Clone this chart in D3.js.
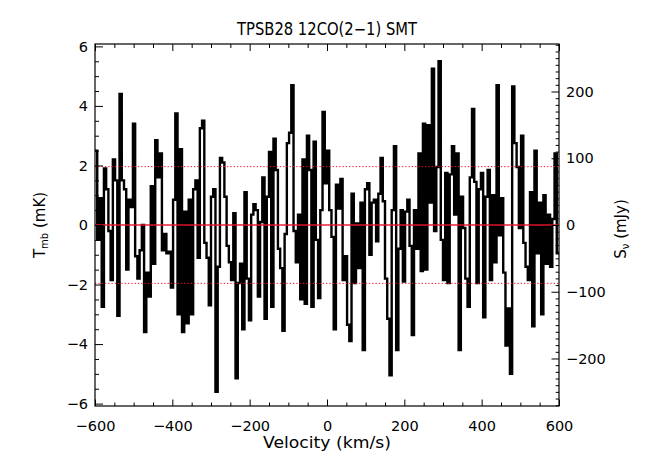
<!DOCTYPE html>
<html><head><meta charset="utf-8">
<script src="https://cdn.jsdelivr.net/npm/d3@7"></script>
<style>
html,body{margin:0;padding:0;background:#fff;}
svg text{font-family:"DejaVu Sans",sans-serif;fill:#000;}
</style></head>
<body>
<svg id="c" width="649" height="467"></svg>
<script>
// ---- data ----
const title = "TPSB28 12CO(2\u22121) SMT";
const velMin = -600, velMax = 600;
// Tmb (mK) per channel, left to right
const tmb = [
 2.5,-0.5,0.9,-2.75,1.9,1.2,-0.2,-1.85,2.2,1.5,-3.05,4.4,1.5,1.2,-1.5,0.85,0.6,3.4,-1.05,-1.8,
 -0.85,0.0,-3.6,-1.6,-2.4,1.3,-1.3,2.85,1.6,2.4,-0.85,-0.3,-0.95,-0.9,-2.1,0.85,3.75,-3.0,2.55,-3.6,
 0.45,-3.3,0.85,-3.0,1.2,1.5,-1.1,3.25,3.5,-0.6,-1.1,-2.7,0.95,1.2,-5.6,-1.4,2.25,2.1,0.95,-0.7,
 -1.25,-1.85,0.4,-5.15,-1.95,-1.3,-3.5,1.1,-1.8,-3.2,0.35,0.7,0.5,-2.4,0.1,1.6,-3.15,0.95,2.45,-2.75,
 2.9,1.85,-0.8,-1.45,-3.55,-0.3,2.75,3.1,4.7,-0.2,-1.25,0.35,-2.5,2.2,-2.65,3.0,1.85,-2.75,2.8,-0.5,
 -2.45,0.5,3.8,1.4,2.5,0.5,-0.4,-3.5,1.35,0.55,1.55,-1.85,-1.05,-3.35,-3.9,1.05,-1.95,0.05,-1.45,0.75,
 -4.2,1.2,
 1.4,-1.0,0.75,0.85,-0.55,1.05,2.25,0.8,-1.8,-3.15,-5.05,0.5,2.65,-4.2,-0.8,0.5,-1.9,0.45,0.85,-0.7,
 -3.7,0.5,-0.8,2.4,-1.55,3.4,-1.5,3.35,0.75,5.25,-0.2,1.95,5.5,-0.5,-1.85,1.75,-1.95,1.7,2.65,0.35,
 2.4,-4.2,
 0.95,-0.1,-1.8,-2.75,1.6,3.9,1.45,-1.95,1.2,1.75,-3.1,0.95,1.85,-1.85,1.0,-1.25,4.7,-0.35,0.9,-1.6,
 -4.05,-2.8,-5.0,4.65,2.75,1.95,-0.1,3.0,-0.6,-1.4,-1.85,1.1,-3.4,2.5,-0.95,0.75,-3.0,1.0,-1.3,0.35,
 -1.4,0.2,2.4,-0.95
];
const sigmaLevel = 1.96;            // dotted lines (mK)
const mJyPerMK = 44.6;              // right-axis conversion
const xMajor = [-600,-400,-200,0,200,400,600];
const yLeftMajor = [-6,-4,-2,0,2,4,6];
const yRightMajor = [-200,-100,0,100,200];

// ---- layout ----
const L=95, R=559, T=44, B=406;
const yMax = 6.08;
const svg = d3.select("#c");
const x = d3.scaleLinear().domain([velMin,velMax]).range([L,R]);
const y = d3.scaleLinear().domain([-yMax,yMax]).range([B,T]);
const yR = d3.scaleLinear().domain([-yMax*mJyPerMK,yMax*mJyPerMK]).range([B,T]);

// spectrum as histogram steps
const n = tmb.length, dv = (velMax-velMin)/n;
const pts = [];
tmb.forEach((v,i)=>{ pts.push([velMin+i*dv, v]); pts.push([velMin+(i+1)*dv, v]); });
svg.append("clipPath").attr("id","pc").append("rect")
  .attr("x",L).attr("y",T).attr("width",R-L).attr("height",B-T);
svg.append("path").attr("clip-path","url(#pc)")
  .attr("d", d3.line().x(d=>x(d[0])).y(d=>y(d[1]))(pts))
  .attr("fill","none").attr("stroke","#000").attr("stroke-width",2.4)
  .attr("stroke-linejoin","miter").attr("stroke-miterlimit",2);

// reference lines
svg.append("line").attr("x1",L).attr("x2",R).attr("y1",y(0)).attr("y2",y(0))
  .attr("stroke","#e8142c").attr("stroke-opacity",0.7).attr("stroke-width",2);
[sigmaLevel,-sigmaLevel].forEach(s=>{
  svg.append("line").attr("x1",L).attr("x2",R).attr("y1",y(s)).attr("y2",y(s))
    .attr("stroke","#ff1020").attr("stroke-width",1).attr("stroke-dasharray","1.3,2");
});

// axes
function styleAx(g){ g.select(".domain").remove(); g.selectAll("line").attr("stroke","#000").attr("stroke-width",1);
  g.selectAll("text").attr("font-family","DejaVu Sans").attr("font-size",14.5).attr("fill","#000"); }
const fmt = d=> d<0 ? "\u2212"+Math.abs(d) : ""+d;
const range = (a,b,s)=>{const r=[];for(let v=a;v<=b+1e-9;v+=s)r.push(+v.toFixed(4));return r;};
const xMinor = range(-600,600,50).filter(v=>!xMajor.includes(v));
const yLeftMinor = range(-6,6,0.5).filter(v=>!yLeftMajor.includes(v));
const yRightMinor = range(-270,270,10).filter(v=>!yRightMajor.includes(v));

// bottom
svg.append("g").attr("transform",`translate(0,${B})`)
  .call(d3.axisBottom(x).tickValues(xMajor).tickSize(-6.5).tickPadding(15).tickFormat(fmt)).call(styleAx);
svg.append("g").attr("transform",`translate(0,${B})`)
  .call(d3.axisBottom(x).tickValues(xMinor).tickSize(-3.5).tickFormat("")).call(styleAx);
// top
svg.append("g").attr("transform",`translate(0,${T})`)
  .call(d3.axisTop(x).tickValues(xMajor).tickSize(-7).tickFormat("")).call(styleAx);
svg.append("g").attr("transform",`translate(0,${T})`)
  .call(d3.axisTop(x).tickValues(xMinor).tickSize(-4).tickFormat("")).call(styleAx);
// left
svg.append("g").attr("transform",`translate(${L},0)`)
  .call(d3.axisLeft(y).tickValues(yLeftMajor).tickSize(-8).tickPadding(7).tickFormat(fmt)).call(styleAx);
svg.append("g").attr("transform",`translate(${L},0)`)
  .call(d3.axisLeft(y).tickValues(yLeftMinor).tickSize(-4).tickFormat("")).call(styleAx);
// right
svg.append("g").attr("transform",`translate(${R},0)`)
  .call(d3.axisRight(yR).tickValues(yRightMajor).tickSize(-7.5).tickPadding(7).tickFormat(fmt)).call(styleAx);
svg.append("g").attr("transform",`translate(${R},0)`)
  .call(d3.axisRight(yR).tickValues(yRightMinor).tickSize(-3.3).tickFormat("")).call(styleAx);

// frame
svg.append("rect").attr("x",L).attr("y",T).attr("width",R-L).attr("height",B-T)
  .attr("fill","none").attr("stroke","#000").attr("stroke-width",1.2);

// titles
svg.append("text").attr("x",(L+R)/2).attr("y",35).attr("text-anchor","middle")
  .attr("font-size",17).attr("textLength",180).attr("lengthAdjust","spacingAndGlyphs").text(title);
svg.append("text").attr("x",(L+R)/2).attr("y",448).attr("text-anchor","middle")
  .attr("font-size",15).attr("textLength",128).attr("lengthAdjust","spacingAndGlyphs").text("Velocity (km/s)");
const yl = svg.append("text").attr("transform","translate(45,225) rotate(-90)")
  .attr("text-anchor","middle").attr("font-size",15);
yl.append("tspan").text("T");
yl.append("tspan").attr("font-size",10).attr("dy",3).text("mb");
yl.append("tspan").attr("dy",-3).text(" (mK)");
const yr = svg.append("text").attr("transform","translate(626,229) rotate(-90)")
  .attr("text-anchor","middle").attr("font-size",15);
yr.append("tspan").text("S");
yr.append("tspan").attr("font-size",10).attr("dy",3).text("\u03bd");
yr.append("tspan").attr("dy",-3).text(" (mJy)");
</script>
</body></html>
